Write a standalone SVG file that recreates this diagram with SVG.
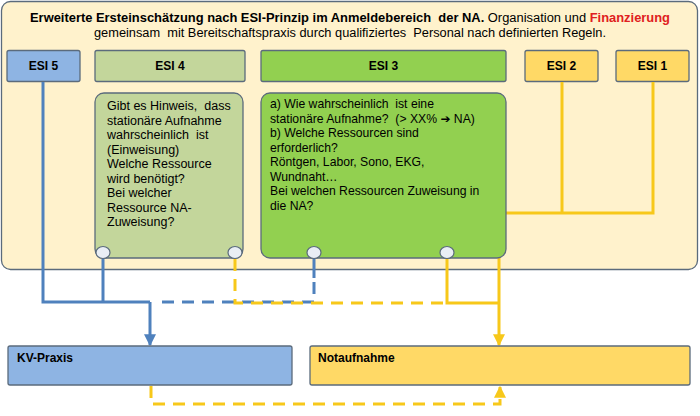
<svg xmlns="http://www.w3.org/2000/svg" width="700" height="416" viewBox="0 0 700 416">
<defs>
<style>
text{font-family:"Liberation Sans",Arial,sans-serif;fill:#000;white-space:pre}
.hdr{font-size:12px;font-weight:bold;text-anchor:middle}
.box{stroke:#5b6b7c;stroke-width:1.3}
.body{font-size:12.5px}
.b3{font-size:12.2px}
.lbl{font-size:12px;font-weight:bold}
.port{fill:#e9eef5;stroke:#5b6b7c;stroke-width:1.2}
.b{fill:none;stroke:#4f81bd;stroke-width:3}
.y{fill:none;stroke:#f7c81a;stroke-width:3}
.d{stroke-dasharray:12,8}
</style>
<marker id="ab" viewBox="0 0 10 10" refX="9" refY="5" markerWidth="4" markerHeight="4" orient="auto" markerUnits="strokeWidth"><path d="M0,0 L10,5 L0,10 z" fill="#4f81bd"/></marker>
<marker id="ay" viewBox="0 0 10 10" refX="9" refY="5" markerWidth="4" markerHeight="4" orient="auto" markerUnits="strokeWidth"><path d="M0,0 L10,5 L0,10 z" fill="#f7c81a"/></marker>
</defs>
<g id="container">
<rect x="1.5" y="1.5" width="696" height="268" rx="9" fill="#fff2cc" class="box"/>
<text x="350" y="22" font-size="12" text-anchor="middle" textLength="640" lengthAdjust="spacingAndGlyphs"><tspan font-weight="bold">Erweiterte Ersteinschätzung nach ESI-Prinzip im Anmeldebereich  der NA.</tspan> Organisation und <tspan font-weight="bold" fill="#e02020">Finanzierung</tspan></text>
<text x="350" y="37" font-size="12" text-anchor="middle" textLength="512" lengthAdjust="spacingAndGlyphs">gemeinsam  mit Bereitschaftspraxis durch qualifiziertes  Personal nach definierten Regeln.</text>
</g>
<g id="esi5"><rect x="7" y="50.5" width="73" height="31" rx="2" fill="#8eb4e3" class="box"/><text x="43.5" y="70" class="hdr">ESI 5</text></g>
<g id="esi4"><rect x="95" y="50.5" width="150" height="31" rx="2" fill="#c3d69b" class="box"/><text x="170" y="70" class="hdr">ESI 4</text></g>
<g id="esi3"><rect x="261" y="50.5" width="245" height="31" rx="2" fill="#92d050" class="box"/><text x="383.5" y="70" class="hdr">ESI 3</text></g>
<g id="esi2"><rect x="525" y="50.5" width="73" height="31" rx="2" fill="#ffd966" class="box"/><text x="561.5" y="70" class="hdr">ESI 2</text></g>
<g id="esi1"><rect x="616" y="50.5" width="73" height="31" rx="2" fill="#ffd966" class="box"/><text x="652.5" y="70" class="hdr">ESI 1</text></g>
<g id="connectors">
<path class="b" d="M43,82 V302 H150"/>
<path class="b" d="M103,259 V302"/>
<path class="b" d="M150,302 V345" marker-end="url(#ab)"/>
<path class="b" d="M314,259 V278"/>
<path class="b d" d="M314,282 V302 H158"/>
<path class="y d" d="M235,259 V303 H447"/>
<path class="y" d="M447,259 V303 H499"/>
<path class="y" d="M562,82 V213 M653,82 V213 H499 V345" marker-end="url(#ay)"/>
<path class="y d" d="M151,386 V404 H500 V387" marker-end="url(#ay)"/>
</g>
<g id="esi4-detail">
<rect x="95" y="93" width="148" height="165" rx="9" fill="#c3d69b" class="box"/>
<text class="body" x="107" y="110">Gibt es Hinweis,  dass</text>
<text class="body" x="107" y="124.5">stationäre Aufnahme</text>
<text class="body" x="107" y="139">wahrscheinlich  ist</text>
<text class="body" x="107" y="153.5">(Einweisung)</text>
<text class="body" x="107" y="168">Welche Ressource</text>
<text class="body" x="107" y="182.5">wird benötigt?</text>
<text class="body" x="107" y="197">Bei welcher</text>
<text class="body" x="107" y="211.5">Ressource NA-</text>
<text class="body" x="107" y="226">Zuweisung?</text>
<ellipse class="port" cx="103" cy="252.5" rx="7" ry="6"/>
<ellipse class="port" cx="235" cy="252.5" rx="7" ry="6"/>
</g>
<g id="esi3-detail">
<rect x="261" y="93" width="245" height="165" rx="9" fill="#92d050" class="box"/>
<text class="b3" x="270" y="108">a) Wie wahrscheinlich  ist eine</text>
<text class="b3" x="270" y="122.5">stationäre Aufnahme?  (&gt; XX% <tspan font-family="DejaVu Sans" font-size="12" font-weight="bold">➔</tspan> NA)</text>
<text class="b3" x="270" y="137">b) Welche Ressourcen sind</text>
<text class="b3" x="270" y="151.5">erforderlich?</text>
<text class="b3" x="270" y="166">Röntgen, Labor, Sono, EKG,</text>
<text class="b3" x="270" y="180.5">Wundnaht…</text>
<text class="b3" x="270" y="195">Bei welchen Ressourcen Zuweisung in</text>
<text class="b3" x="270" y="209.5">die NA?</text>
<ellipse class="port" cx="314" cy="252.5" rx="7" ry="6"/>
<ellipse class="port" cx="447" cy="252.5" rx="7" ry="6"/>
</g>
<g id="kv-praxis"><rect x="8" y="346" width="284" height="39" rx="2" fill="#8eb4e3" class="box"/><text x="17" y="362" class="lbl">KV-Praxis</text></g>
<g id="notaufnahme"><rect x="310" y="346" width="380" height="39" rx="2" fill="#ffd966" class="box"/><text x="318" y="362" class="lbl">Notaufnahme</text></g>
</svg>
